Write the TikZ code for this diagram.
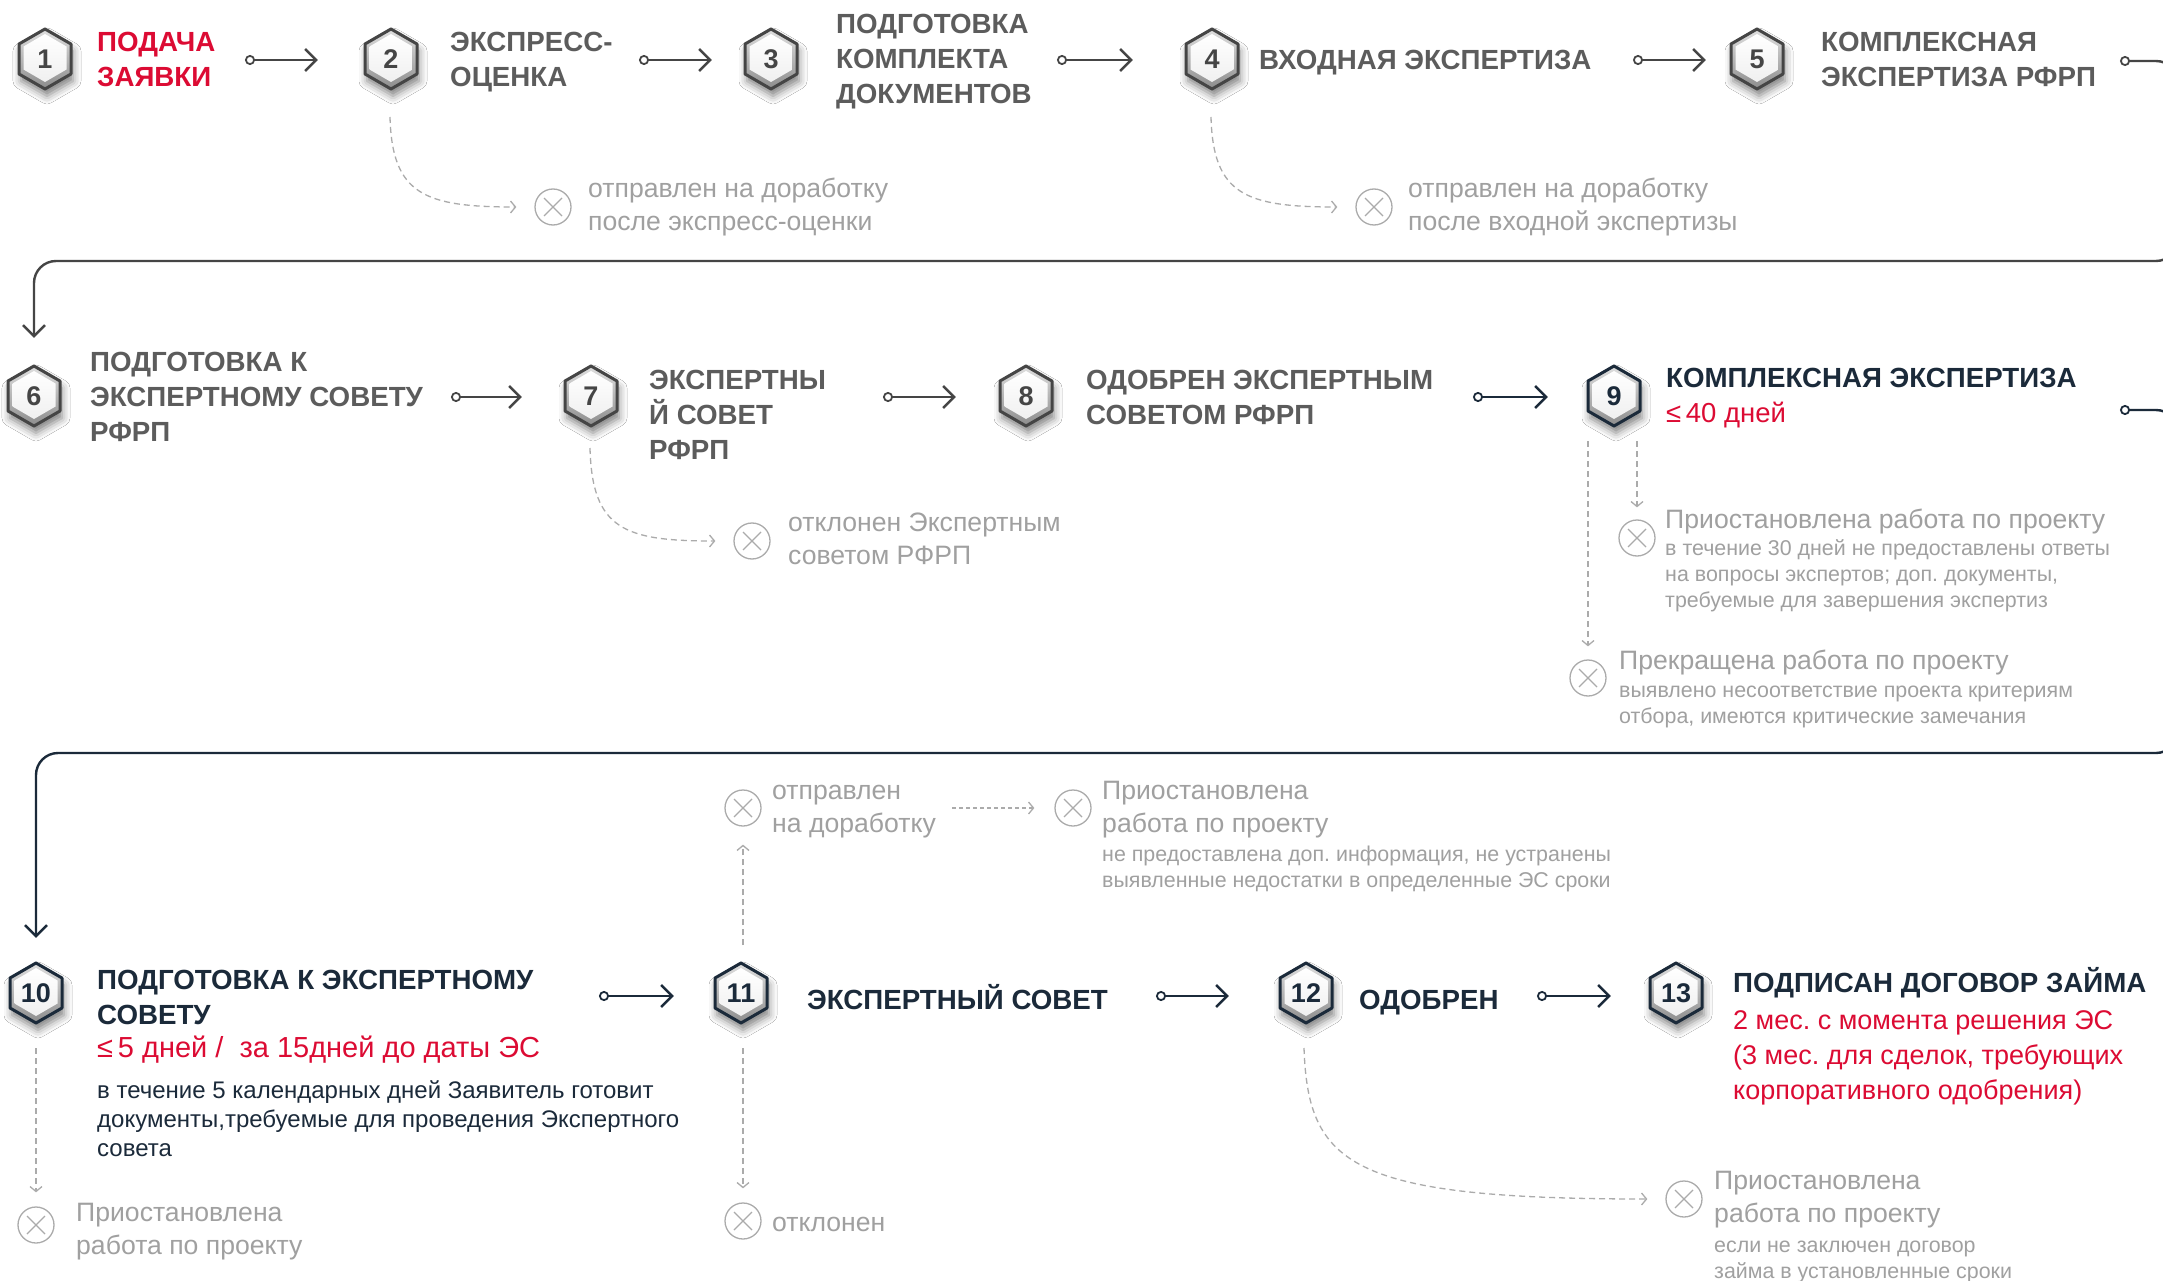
\documentclass[tikz,border=0pt]{standalone}
\usepackage{fontspec}
\setmainfont{Liberation Sans}
\usetikzlibrary{arrows.meta,shadows.blur}
\frenchspacing
\definecolor{tgray}{HTML}{5C5C5C}
\definecolor{hgray}{HTML}{454545}
\definecolor{lgray}{HTML}{A0A0A0}
\definecolor{dgray}{HTML}{ABABAB}
\definecolor{navy}{HTML}{1B2A3A}
\definecolor{rred}{HTML}{DC0B33}
\newcommand\Ts{\rule{0pt}{25pt}}
\newcommand\Ns{\rule{0pt}{24pt}}
\newcommand\Ss{\rule{0pt}{19pt}}
\newcommand\Bs{\rule{0pt}{22pt}}
\newcommand\Rs{\rule{0pt}{26pt}}
\newcommand\hexb[5]{%
  \begin{scope}[shift={(#2,#3)}]
    \path[fill=white, blur shadow={shadow xshift=2pt, shadow yshift=-7pt, shadow blur radius=8pt, shadow opacity=50}]
      (0,-30) -- (26,-15) -- (26,15) -- (0,30) -- (-26,15) -- (-26,-15) -- cycle;
    \shade[top color=gray!25, bottom color=gray!90]
      (0,-30) -- (26,-15) -- (26,15) -- (0,30) -- (-26,15) -- (-26,-15) -- cycle;
    \shade[top color=white, bottom color=gray!12]
      (0,-25) -- (21.5,-12.5) -- (21.5,10.5) -- (0,23) -- (-21.5,10.5) -- (-21.5,-12.5) -- cycle;
    \draw[#5, line width=3pt, line join=round]
      (0,-30) -- (26,-15) -- (26,15) -- (0,30) -- (-26,15) -- (-26,-15) -- cycle;
  \end{scope}
  \node[hexnum, text=#5] (#1) at (#2,#3) {#4};
}
\begin{document}
\frenchspacing
\begin{tikzpicture}[x=1pt, y=-1pt,
  title/.style={anchor=north west, inner sep=0pt, align=left, text=tgray, font=\fontsize{27.7}{35}\selectfont\bfseries},
  ntitle/.style={title, text=navy},
  rtitle/.style={title, text=rred},
  note/.style={anchor=north west, inner sep=0pt, align=left, text=lgray, font=\fontsize{26.6}{33}\selectfont},
  small/.style={anchor=north west, inner sep=0pt, align=left, text=lgray, font=\fontsize{21.4}{26}\selectfont},
  redt/.style={anchor=north west, inner sep=0pt, align=left, text=rred, font=\fontsize{27.5}{35}\selectfont},
  body/.style={anchor=north west, inner sep=0pt, align=left, text=navy, font=\fontsize{24}{29}\selectfont},
  hexnum/.style={inner sep=0pt, minimum width=52pt, minimum height=60pt, font=\fontsize{27}{27}\selectfont\bfseries},
  conn/.style={line width=2.4pt, draw=hgray, {Circle[length=10pt,width=10pt,fill=white,line width=1.8pt]}-{Straight Barb[length=11pt,width=22pt]}},
  nconn/.style={conn, draw=navy},
  branch/.style={draw=dgray, line width=1.3pt, dash pattern=on 6pt off 4pt, -{Straight Barb[length=5pt,width=12pt]}},
  fbranch/.style={branch, dash pattern=on 4pt off 3pt},
  xmark/.style={circle, draw=dgray, line width=1.3pt, minimum size=36pt, inner sep=0pt,
    path picture={\draw[dgray, line width=1.2pt]
      ([shift={(-9pt,-9pt)}]path picture bounding box.center) -- ([shift={(9pt,9pt)}]path picture bounding box.center)
      ([shift={(-9pt,9pt)}]path picture bounding box.center) -- ([shift={(9pt,-9pt)}]path picture bounding box.center);}}
]
\useasboundingbox (0,0) rectangle (2163,1281);
\fill[white] (0,0) rectangle (2163,1281);

% ---------------- hexagons ----------------
\hexb{h1}{45}{59}{1}{hgray}
\hexb{h2}{391}{59}{2}{hgray}
\hexb{h3}{771}{59}{3}{hgray}
\hexb{h4}{1212}{59}{4}{hgray}
\hexb{h5}{1757}{59}{5}{hgray}
\hexb{h6}{34}{396}{6}{hgray}
\hexb{h7}{591}{396}{7}{hgray}
\hexb{h8}{1026}{396}{8}{hgray}
\hexb{h9}{1614}{396}{9}{navy}
\hexb{h10}{36}{993}{10}{navy}
\hexb{h11}{741}{993}{11}{navy}
\hexb{h12}{1306}{993}{12}{navy}
\hexb{h13}{1676}{993}{13}{navy}

% ---------------- row 1 ----------------
\node[rtitle] (t1) at (97,26) {\Ts ПОДАЧА\\ЗАЯВКИ};
\node[title] (t2) at (450,26) {\Ts ЭКСПРЕСС-\\ОЦЕНКА};
\node[title] (t3) at (836,8) {\Ts ПОДГОТОВКА\\КОМПЛЕКТА\\ДОКУМЕНТОВ};
\node[title] (t4) at (1259,44) {\Ts ВХОДНАЯ ЭКСПЕРТИЗА};
\node[title] (t5) at (1821,26) {\Ts КОМПЛЕКСНАЯ\\ЭКСПЕРТИЗА РФРП};

\coordinate (c12) at (245,60);
\coordinate (c23) at (639,60);
\coordinate (c34) at (1057,60);
\coordinate (c45) at (1633,60);
\draw[conn, shorten >=47pt] (c12) -- (h2.west |- c12);
\draw[conn, shorten >=33pt] (c23) -- (h3.west |- c23);
\draw[conn, shorten >=53pt] (c34) -- (h4.west |- c34);
\draw[conn, shorten >=25pt] (c45) -- (h5.west |- c45);

\node[xmark] (x2) at (553,207) {};
\node[note] (n2) at (588,173) {\Ns отправлен на доработку\\после экспресс-оценки};
\coordinate (b2) at (390,117);
\draw[branch, shorten >=18pt] (b2) .. controls (392,195) and (425,207) .. (x2.west);

\node[xmark] (x4) at (1374,207) {};
\node[note] (n4) at (1408,173) {\Ns отправлен на доработку\\после входной экспертизы};
\coordinate (b4) at (1211,117);
\draw[branch, shorten >=18pt] (b4) .. controls (1213,195) and (1246,207) .. (x4.west);

\coordinate (r1s) at (2120,61);
\coordinate (r1y) at (0,261);
\draw[conn, rounded corners=22pt, shorten >=28pt] (r1s) -- (2178,61) -- (2178,261) -- (h6.north |- r1y) -- (h6.north);

% ---------------- row 2 ----------------
\node[title] (t6) at (90,346) {\Ts ПОДГОТОВКА К\\ЭКСПЕРТНОМУ СОВЕТУ\\РФРП};
\node[title] (t7) at (649,364) {\Ts ЭКСПЕРТНЫ\\Й СОВЕТ\\РФРП};
\node[title] (t8) at (1086,364) {\Ts ОДОБРЕН ЭКСПЕРТНЫМ\\СОВЕТОМ РФРП};
\node[ntitle] (t9) at (1666,362) {\Ts КОМПЛЕКСНАЯ ЭКСПЕРТИЗА};
\node[redt] (d9) at (1666,396) {\Rs ≤\,40 дней};

\coordinate (c67) at (451,397);
\coordinate (c78) at (883,397);
\coordinate (c89) at (1473,397);
\draw[conn, shorten >=43pt] (c67) -- (h7.west |- c67);
\draw[conn, shorten >=44pt] (c78) -- (h8.west |- c78);
\draw[nconn, shorten >=40pt] (c89) -- (h9.west |- c89);

\node[xmark] (x7) at (752,541) {};
\node[note] (n7) at (788,507) {\Ns отклонен Экспертным\\советом РФРП};
\coordinate (b7) at (590,448);
\draw[branch, shorten >=18pt] (b7) .. controls (592,530) and (625,541) .. (x7.west);

\node[xmark] (x9a) at (1637,538) {};
\node[note] (n9a) at (1665,504) {\Ns Приостановлена работа по проекту};
\node[small] (s9a) at (1665,536) {\Ss в течение 30 дней не предоставлены ответы\\на вопросы экспертов; доп. документы,\\требуемые для завершения экспертиз};
\coordinate (b9a) at (1637,441);
\draw[branch, shorten >=12pt] (b9a) -- (x9a.north);

\node[xmark] (x9b) at (1588,678) {};
\node[note] (n9b) at (1619,645) {\Ns Прекращена работа по проекту};
\node[small] (s9b) at (1619,678) {\Ss выявлено несоответствие проекта критериям\\отбора, имеются критические замечания};
\coordinate (b9b) at (1588,441);
\draw[branch, shorten >=13pt] (b9b) -- (x9b.north);

\coordinate (r2s) at (2120,410);
\coordinate (r2y) at (0,753);
\draw[nconn, rounded corners=22pt, shorten >=25pt] (r2s) -- (2178,410) -- (2178,753) -- (h10.north |- r2y) -- (h10.north);

% ---------------- row 3 ----------------
\node[ntitle] (t10) at (97,964) {\Ts ПОДГОТОВКА К ЭКСПЕРТНОМУ\\СОВЕТУ};
\node[redt, font=\fontsize{29}{35}\selectfont] (d10) at (97,1031) {\Rs ≤\,5 дней /\ \ за 15дней до даты ЭС};
\node[body] (e10) at (97,1076) {\Bs в течение 5 календарных дней Заявитель готовит\\документы,требуемые для проведения Экспертного\\совета};
\node[ntitle] (t11) at (807,984) {\Ts ЭКСПЕРТНЫЙ СОВЕТ};
\node[ntitle] (t12) at (1359,984) {\Ts ОДОБРЕН};
\node[ntitle] (t13) at (1733,967) {\Ts ПОДПИСАН ДОГОВОР ЗАЙМА};
\node[redt, font=\fontsize{27}{35}\selectfont] (d13) at (1733,1004) {\Ts 2 мес. с момента решения ЭС\\(3 мес. для сделок, требующих\\корпоративного одобрения)};

\coordinate (c1011) at (599,996);
\coordinate (c1112) at (1156,996);
\coordinate (c1213) at (1537,996);
\draw[nconn, shorten >=41pt] (c1011) -- (h11.west |- c1011);
\draw[nconn, shorten >=51pt] (c1112) -- (h12.west |- c1112);
\draw[nconn, shorten >=39pt] (c1213) -- (h13.west |- c1213);

\node[xmark] (x10) at (36,1225) {};
\node[note] (n10) at (76,1197) {\Ns Приостановлена\\работа по проекту};
\coordinate (b10) at (36,1048);
\draw[branch, shorten >=14pt] (b10) -- (x10.north);

\node[xmark] (x11a) at (743,808) {};
\node[note] (n11a) at (772,775) {\Ns отправлен\\на доработку};
\coordinate (b11a) at (743,945);
\draw[branch, shorten >=18pt] (b11a) -- (x11a.south);

\node[xmark] (x11b) at (1073,808) {};
\node[note] (n11b) at (1102,775) {\Ns Приостановлена\\работа по проекту};
\node[small] (s11b) at (1102,842) {\Ss не предоставлена доп. информация, не устранены\\выявленные недостатки в определенные ЭС сроки};
\coordinate (b11b) at (952,808);
\draw[fbranch, shorten >=20pt] (b11b) -- (x11b.west);

\node[xmark] (x11c) at (743,1221) {};
\node[note] (n11c) at (772,1207) {\Ns отклонен};
\coordinate (b11c) at (743,1048);
\draw[branch, shorten >=14pt] (b11c) -- (x11c.north);

\node[xmark] (x12) at (1684,1199) {};
\node[note] (n12) at (1714,1165) {\Ns Приостановлена\\работа по проекту};
\node[small] (s12) at (1714,1233) {\Ss если не заключен договор\\займа в установленные сроки};
\coordinate (b12) at (1304,1048);
\draw[branch, shorten >=18pt] (b12) .. controls (1308,1165) and (1350,1199) .. (x12.west);
\end{tikzpicture}
\end{document}
